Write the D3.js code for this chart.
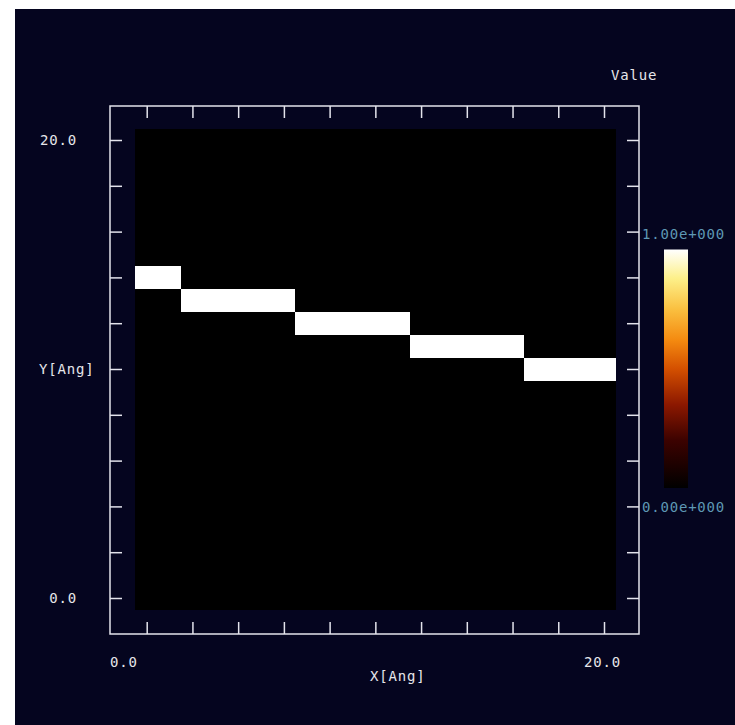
<!DOCTYPE html>
<html>
<head>
<style>
body { margin: 0; background: #ffffff; }
svg { display: block; }
text { font-family: "DejaVu Sans Mono", monospace; font-size: 14px; letter-spacing: 0.8px; }
</style>
<script src="https://d3js.org/d3.v7.min.js"></script>
</head>
<body>
<svg width="735" height="725"></svg>
<script>
// grid of cells, 1 Angstrom each
var xCells = [0,1,2,3,4,5,6,7,8,9,10,11,12,13,14,15,16,17,18,19,20];
var yCells = [0,1,2,3,4,5,6,7,8,9,10,11,12,13,14,15,16,17,18,19,20];
// row of the bright cell in each column, and its value
var ridgeRow   = [14,14,13,13,13,13,13,12,12,12,12,12,11,11,11,11,11,10,10,10,10];
var ridgeValue = [1,1,1,1,1,1,1,1,1,1,1,1,1,1,1,1,1,1,1,1,1];
var tickValues = [0,2,4,6,8,10,12,14,16,18,20];
var colorStops  = [0, 0.2, 0.35, 0.5, 0.62, 0.75, 0.88, 1];
var colorValues = ["#000000", "#3c0200", "#8c1800", "#d45000", "#f48a10", "#fac040", "#fdf08a", "#ffffff"];
var colorbarLabels = ["1.00e+000", "0.00e+000"];

var svg = d3.select("svg");

svg.append("rect")
  .attr("x", 15).attr("y", 9)
  .attr("width", 720).attr("height", 716)
  .attr("fill", "#05051f");

var xScale = d3.scaleLinear().domain([0, 20]).range([146.7, 604]);
var yScale = d3.scaleLinear().domain([0, 20]).range([598, 140]);
var color = d3.scaleLinear().domain(colorStops).range(colorValues);

// build cells
var cells = [];
xCells.forEach(function(cx, i) {
  yCells.forEach(function(cy) {
    cells.push({x: cx, y: cy, v: cy === ridgeRow[i] ? ridgeValue[i] : 0});
  });
});

svg.append("g")
  .selectAll("rect")
  .data(cells)
  .enter()
  .append("rect")
  .attr("x", function(d) { return xScale(d.x - 0.5); })
  .attr("y", function(d) { return yScale(d.y + 0.5); })
  .attr("width", function(d) { return xScale(d.x + 0.5) - xScale(d.x - 0.5) + 0.5; })
  .attr("height", function(d) { return yScale(d.y - 0.5) - yScale(d.y + 0.5) + 0.5; })
  .attr("fill", function(d) { return color(d.v); })
  .attr("shape-rendering", "crispEdges");

// frame
var frame = {left: 110, right: 639, top: 106, bottom: 634};
svg.append("rect")
  .attr("x", frame.left).attr("y", frame.top)
  .attr("width", frame.right - frame.left)
  .attr("height", frame.bottom - frame.top)
  .attr("fill", "none")
  .attr("stroke", "#e4e4ec")
  .attr("stroke-width", 1.5);

var tickLen = 12;
var topAxis = d3.axisBottom(xScale).tickValues(tickValues).tickSize(tickLen).tickFormat("");
var bottomAxis = d3.axisTop(xScale).tickValues(tickValues).tickSize(tickLen).tickFormat("");
var leftAxis = d3.axisRight(yScale).tickValues(tickValues).tickSize(tickLen).tickFormat("");
var rightAxis = d3.axisLeft(yScale).tickValues(tickValues).tickSize(tickLen).tickFormat("");

function styleAxis(g) {
  g.select(".domain").remove();
  g.selectAll("line").attr("stroke", "#e4e4ec").attr("stroke-width", 1.5);
}

svg.append("g").attr("transform", "translate(0," + frame.top + ")").call(topAxis).call(styleAxis);
svg.append("g").attr("transform", "translate(0," + frame.bottom + ")").call(bottomAxis).call(styleAxis);
svg.append("g").attr("transform", "translate(" + frame.left + ",0)").call(leftAxis).call(styleAxis);
svg.append("g").attr("transform", "translate(" + frame.right + ",0)").call(rightAxis).call(styleAxis);

// axis labels
var labelColor = "#e6e6ea";
function label(x, y, s, anchor, fill) {
  svg.append("text")
    .attr("x", x).attr("y", y)
    .attr("dy", "0.35em")
    .attr("text-anchor", anchor || "start")
    .attr("fill", fill || labelColor)
    .text(s);
}
label(77, yScale(20), "20.0", "end");
label(77, yScale(0), "0.0", "end");
label(39, yScale(10), "Y[Ang]", "start");
label(frame.left, 662, "0.0", "start");
label(621, 662, "20.0", "end");
label(370, 676, "X[Ang]", "start");
label(611, 75, "Value", "start");

// colorbar
var cbScale = d3.scaleLinear().domain([0, 1]).range([488, 249.5]);
var defs = svg.append("defs");
var grad = defs.append("linearGradient")
  .attr("id", "cb")
  .attr("x1", 0).attr("y1", 1).attr("x2", 0).attr("y2", 0);
grad.selectAll("stop")
  .data(colorStops)
  .enter()
  .append("stop")
  .attr("offset", function(d) { return d; })
  .attr("stop-color", function(d, i) { return colorValues[i]; });

svg.append("rect")
  .attr("x", 664).attr("y", cbScale(1))
  .attr("width", 24)
  .attr("height", cbScale(0) - cbScale(1))
  .attr("fill", "url(#cb)");

label(642, 234, colorbarLabels[0], "start", "#5e98b4");
label(642, 507.5, colorbarLabels[1], "start", "#5e98b4");
</script>
</body>
</html>
